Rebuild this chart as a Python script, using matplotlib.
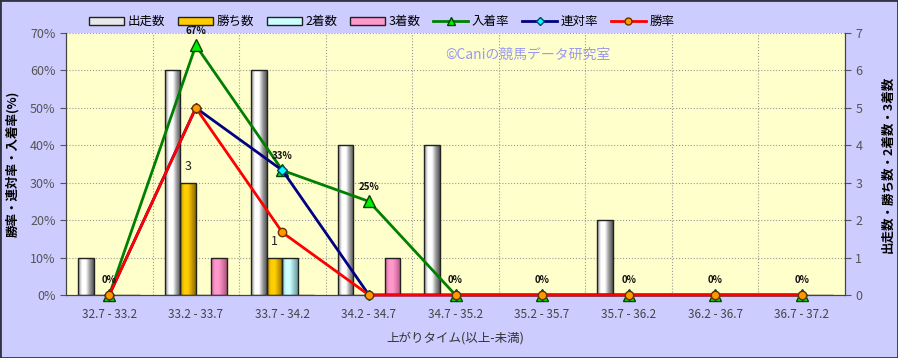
import numpy as np
import matplotlib.pyplot as plt
from matplotlib.colors import LinearSegmentedColormap
from matplotlib.patches import Rectangle, Patch
from matplotlib.lines import Line2D

plt.rcParams['font.family'] = ['Noto Sans CJK JP', 'DejaVu Sans']

categories = ['32.7 - 33.2', '33.2 - 33.7', '33.7 - 34.2', '34.2 - 34.7', '34.7 - 35.2',
              '35.2 - 35.7', '35.7 - 36.2', '36.2 - 36.7', '36.7 - 37.2']
starts = [1, 6, 6, 4, 4, 0, 2, 0, 0]
wins = [0, 3, 1, 0, 0, 0, 0, 0, 0]
seconds = [0, 0, 1, 0, 0, 0, 0, 0, 0]
thirds = [0, 1, 0, 1, 0, 0, 0, 0, 0]
place_rate = [0, 66.7, 33.3, 25, 0, 0, 0, 0, 0]
quinella_rate = [0, 50, 33.3, 0, 0, 0, 0, 0, 0]
win_rate = [0, 50, 16.7, 0, 0, 0, 0, 0, 0]

bg = '#ccccff'
fig = plt.figure(figsize=(8.98, 3.58), dpi=100, facecolor=bg)
fig.patches.append(Rectangle((0, 0), 1, 1, transform=fig.transFigure, fill=False,
                             edgecolor='#333344', linewidth=2))

ax = fig.add_axes([66/898, 63/358, 779/898, 262/358])
ax.set_facecolor('#ffffcc')
x = np.arange(len(categories))
w = 0.18

def grad_bars(bars, colors):
    cmap = LinearSegmentedColormap.from_list('g', colors)
    grad = np.linspace(0, 1, 64).reshape(1, -1)
    for b in bars:
        if b.get_height() <= 0:
            continue
        x0, y0 = b.get_x(), b.get_y()
        im = ax.imshow(grad, cmap=cmap, aspect='auto', zorder=2,
                       extent=[x0, x0 + b.get_width(), y0, y0 + b.get_height()])
        im.set_clip_path(b)

series = [
    (starts, -1.5, ['#8a8a8a', '#ffffff', '#ffffff', '#9a9a9a', '#555555'], '#e0e0e0'),
    (wins, -0.5, ['#b08a00', '#ffcc00', '#ffd000', '#c89a00', '#8a6a00'], '#ffcc00'),
    (seconds, 0.5, ['#88bbbb', '#ccffff', '#ccffff', '#99cccc', '#669999'], '#ccffff'),
    (thirds, 1.5, ['#cc6699', '#ff99cc', '#ff99cc', '#dd77aa', '#aa5577'], '#ff99cc'),
]
for vals, off, cols, fc in series:
    bars = ax.bar(x + off * w, vals, width=w, facecolor=fc, edgecolor='#222222',
                  linewidth=1.0, zorder=3)
    for b in bars:
        b.set_facecolor('none')
    grad_bars(bars, cols)

for i, v in enumerate(wins):
    if v > 0:
        ax.text(x[i] - 0.5 * w, v + 0.25, str(v), ha='center', va='bottom',
                fontsize=9, color='#222222', zorder=6)

ax.set_xlim(-0.5, len(categories) - 0.5)
ax.set_ylim(0, 7)
ax.set_xticks(x)
ax.set_xticklabels(categories, fontsize=8.5, color='#444444')
ax.set_xticks(np.arange(-0.5, len(categories)), minor=True)
ax.tick_params(axis='x', which='both', length=0, pad=9)
ax.grid(axis='y', color='#999999', linestyle=':', linewidth=0.8)
ax.grid(axis='x', which='minor', color='#999999', linestyle=':', linewidth=0.8)
ax.set_axisbelow(True)

ax2 = ax.twinx()
ax2.set_ylim(0, 70)
ax2.set_facecolor('none')

# counts on the right, percentages on the left
ax.yaxis.tick_right()
ax.yaxis.set_label_position('right')
ax.set_yticks(range(8))
ax.tick_params(axis='y', labelsize=9, colors='#555555', length=4)
ax2.yaxis.tick_left()
ax2.yaxis.set_label_position('left')
ax2.set_yticks(range(0, 71, 10))
ax2.set_yticklabels([f'{v}%' for v in range(0, 71, 10)])
ax2.tick_params(axis='y', labelsize=9, colors='#555555', length=4)
for a in (ax, ax2):
    for s in a.spines.values():
        s.set_color('#444444')
    a.spines['top'].set_visible(False)

ax2.plot(x, place_rate, color='#008000', lw=2, marker='^', ms=8,
         mfc='#00ee00', mec='#004400', zorder=4, clip_on=False)
ax2.plot(x, quinella_rate, color='#000080', lw=2, marker='D', ms=5,
         mfc='#00ffff', mec='#004466', zorder=5, clip_on=False)
ax2.plot(x, win_rate, color='#ff0000', lw=2, marker='o', ms=6,
         mfc='#ff9900', mec='#663300', zorder=6, clip_on=False)

for i, v in enumerate(place_rate):
    ax2.annotate(f'{v:.0f}%', (x[i], v), xytext=(0, 7), textcoords='offset points',
                 ha='center', va='bottom', fontsize=7, fontweight='bold',
                 color='#111111', zorder=7)

ax.text(0.487, 0.9, '©Caniの競馬データ研究室', transform=ax.transAxes,
        fontsize=10, color='#9999ee', zorder=1)

ax2.set_ylabel('勝率・連対率・入着率(%)', fontsize=9, fontweight='bold', labelpad=8)
ax.set_ylabel('出走数・勝ち数・2着数・3着数', fontsize=9, fontweight='bold', labelpad=14)
ax.set_xlabel('上がりタイム(以上-未満)', fontsize=9, color='#333333', labelpad=8)

handles = [
    Patch(facecolor='#e8e8e8', edgecolor='#222222', label='出走数'),
    Patch(facecolor='#ffcc00', edgecolor='#222222', label='勝ち数'),
    Patch(facecolor='#ccffff', edgecolor='#222222', label='2着数'),
    Patch(facecolor='#ff99cc', edgecolor='#222222', label='3着数'),
    Line2D([], [], color='#008000', lw=2, marker='^', ms=6, mfc='#00ee00', mec='#004400', label='入着率'),
    Line2D([], [], color='#000080', lw=2, marker='D', ms=4, mfc='#00ffff', mec='#004466', label='連対率'),
    Line2D([], [], color='#ff0000', lw=2, marker='o', ms=5, mfc='#ff9900', mec='#663300', label='勝率'),
]
fig.legend(handles=handles, loc='upper left', bbox_to_anchor=(78/898, 1 - 4/358), ncol=7,
           frameon=False, fontsize=9, handlelength=2.8, handleheight=0.6,
           handletextpad=0.3, columnspacing=1.0)

fig.savefig('out.png', dpi=100, facecolor=bg)
